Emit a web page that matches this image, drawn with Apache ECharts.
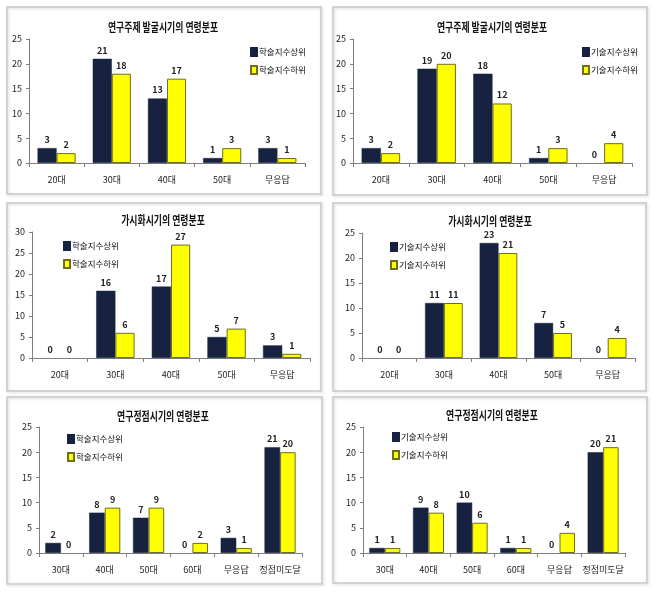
<!DOCTYPE html>
<html><head><meta charset="utf-8">
<script src="https://cdn.jsdelivr.net/npm/echarts@6/dist/echarts.min.js"></script>
<style>html,body{margin:0;padding:0;background:#fff}#c{width:658px;height:593px}</style>
</head><body><div id="c"></div>
<script>
// ---- categories / names / titles ----
const agesA = ['20대','30대','40대','50대','무응답'];
const agesB = ['30대','40대','50대','60대','무응답','정점미도달'];
const acadNames = ['학술지수상위','학술지수하위'];
const techNames = ['기술지수상위','기술지수하위'];
const titleDiscovery = '연구주제 발굴시기의 연령분포';
const titleVisible = '가시화시기의 연령분포';
const titlePeak = '연구정점시기의 연령분포';
const yMaxes = [25, 25, 30, 25, 25, 25];
const yStep = 5;

// ---- series values ----
const discAcadHigh = [3, 21, 13, 1, 3];
const discAcadLow  = [2, 18, 17, 3, 1];
const discTechHigh = [3, 19, 18, 1, 0];
const discTechLow  = [2, 20, 12, 3, 4];
const visAcadHigh  = [0, 16, 17, 5, 3];
const visAcadLow   = [0, 6, 27, 7, 1];
const visTechHigh  = [0, 11, 23, 7, 0];
const visTechLow   = [0, 11, 21, 5, 4];
const peakAcadHigh = [2, 8, 7, 0, 3, 21];
const peakAcadLow  = [0, 9, 9, 2, 1, 20];
const peakTechHigh = [1, 9, 10, 1, 0, 20];
const peakTechLow  = [1, 8, 6, 1, 4, 21];

// ---- assembly ----
const panelTitles = [titleDiscovery, titleDiscovery, titleVisible, titleVisible, titlePeak, titlePeak];
const panelCats = [agesA, agesA, agesA, agesA, agesB, agesB];
const panelNames = [acadNames, techNames, acadNames, techNames, acadNames, techNames];
const panelHigh = [discAcadHigh, discTechHigh, visAcadHigh, visTechHigh, peakAcadHigh, peakTechHigh];
const panelLow = [discAcadLow, discTechLow, visAcadLow, visTechLow, peakAcadLow, peakTechLow];

// layout (pixels)
const grids = [
  {left: 29, top: 39, width: 276, height: 124},
  {left: 353, top: 39, width: 279, height: 124},
  {left: 32, top: 232, width: 278, height: 126},
  {left: 362, top: 233, width: 273, height: 125},
  {left: 39, top: 427, width: 263, height: 126},
  {left: 363, top: 427, width: 262, height: 126}
];
const titlePos = [[163, 27], [492, 27], [163, 220], [490, 221], [163, 416], [492, 415]];
const legendPos = [[245, 42], [577, 42], [58, 236], [385, 237], [62, 429], [387, 427]];
const boxes = [
  [7, 7, 314, 187], [333, 7, 314, 188],
  [7, 203, 314, 188], [333, 203, 313, 188],
  [7, 397, 315, 187], [333, 397, 314, 186]
];

const NAVY = '#16223f';
const YEL = '#ffff00';
const numFont = "'Liberation Sans Narrow', 'Noto Sans CJK KR', sans-serif";
const krFont = "'Noto Sans CJK KR', sans-serif";

const option = {
  animation: false,
  backgroundColor: '#fff',
  grid: grids.map(g => Object.assign({containLabel: false}, g)),
  xAxis: grids.map((g, i) => ({
    type: 'category', gridIndex: i, data: panelCats[i],
    axisLine: {lineStyle: {color: '#7f7f7f', width: 1}},
    axisTick: {show: true, length: 4, alignWithLabel: false, lineStyle: {color: '#7f7f7f'}},
    axisLabel: {interval: 0, fontSize: 9, color: '#222', margin: 12, fontFamily: krFont}
  })),
  yAxis: grids.map((g, i) => ({
    type: 'value', gridIndex: i, min: 0, max: yMaxes[i], interval: yStep,
    splitLine: {show: false},
    axisLine: {show: true, lineStyle: {color: '#7f7f7f', width: 1}},
    axisTick: {show: true, length: 3, lineStyle: {color: '#7f7f7f'}},
    axisLabel: {fontSize: 9, color: '#222', margin: 7, fontFamily: numFont}
  })),
  legend: legendPos.map((p, i) => ({
    left: p[0], top: p[1], orient: 'vertical', itemGap: 8,
    itemWidth: 6, itemHeight: 8, icon: 'rect',
    data: panelNames[i],
    textStyle: {fontSize: 8.5, color: '#111', padding: [0, 0, 0, -3], fontFamily: krFont}
  })),
  graphic: [
    ...boxes.map(b => ({
      type: 'rect', shape: {x: b[0], y: b[1], width: b[2], height: b[3]},
      style: {fill: 'none', stroke: '#c9c9c9', lineWidth: 1.5,
              shadowBlur: 3, shadowColor: 'rgba(0,0,0,0.18)', shadowOffsetX: 1, shadowOffsetY: 1},
      z: -1, silent: true
    })),
    ...titlePos.map((p, i) => ({
      type: 'text', x: p[0], y: p[1], scaleX: 0.74,
      style: {text: panelTitles[i], align: 'center', verticalAlign: 'middle',
              font: "bold 12px 'Noto Sans CJK KR', sans-serif", fill: '#111'}
    }))
  ],
  series: []
};

function items(arr, bw) {
  return arr.map(v => ({value: v, itemStyle: {borderWidth: v === 0 ? 0 : bw}}));
}

panelHigh.forEach((hi, i) => {
  const common = {
    type: 'bar', xAxisIndex: i, yAxisIndex: i,
    barGap: '0%', barCategoryGap: i >= 4 ? '29%' : '31%',
    label: {show: true, position: 'top', distance: 4, fontSize: 9, fontWeight: 'bold',
            color: '#222', fontFamily: numFont}
  };
  option.series.push(Object.assign({}, common, {
    name: panelNames[i][0], data: items(hi, 0.5),
    itemStyle: {color: NAVY, borderColor: NAVY, borderWidth: 0.5}
  }));
  option.series.push(Object.assign({}, common, {
    name: panelNames[i][1], data: items(panelLow[i], 1),
    itemStyle: {color: YEL, borderColor: '#6e6e1e', borderWidth: 1}
  }));
});

const chart = echarts.init(document.getElementById('c'), null, {renderer: 'canvas'});
chart.setOption(option);
</script></body></html>
